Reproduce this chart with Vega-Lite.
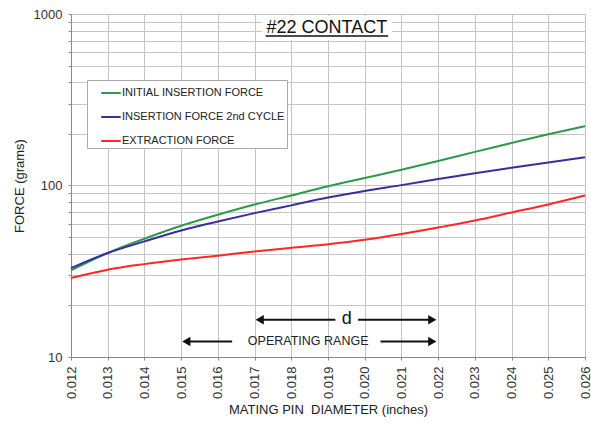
{
  "$schema": "https://vega.github.io/schema/vega-lite/v6.json",
  "width": 514,
  "height": 343,
  "autosize": {"type": "none"},
  "padding": {"left": 71, "top": 14, "right": 6, "bottom": 67},
  "background": "white",
  "config": {
    "font": "Liberation Sans",
    "view": {"stroke": "#aaaaaa", "strokeWidth": 1},
    "axis": {
      "labelFont": "Liberation Sans",
      "titleFont": "Liberation Sans",
      "labelColor": "#333333",
      "titleColor": "#222222",
      "titleFontWeight": "normal",
      "grid": true,
      "gridColor": "#c4c4c4",
      "gridWidth": 1,
      "gridOpacity": 1,
      "domainColor": "#888888",
      "tickColor": "#888888",
      "tickSize": 3
    }
  },
  "data": {
    "values": [
      {"d": 0.012, "s": "INITIAL INSERTION FORCE", "f": 32.0},
      {"d": 0.013, "s": "INITIAL INSERTION FORCE", "f": 40.4},
      {"d": 0.014, "s": "INITIAL INSERTION FORCE", "f": 48.9},
      {"d": 0.015, "s": "INITIAL INSERTION FORCE", "f": 58.2},
      {"d": 0.016, "s": "INITIAL INSERTION FORCE", "f": 67.5},
      {"d": 0.017, "s": "INITIAL INSERTION FORCE", "f": 77.4},
      {"d": 0.018, "s": "INITIAL INSERTION FORCE", "f": 87.5},
      {"d": 0.019, "s": "INITIAL INSERTION FORCE", "f": 99.0},
      {"d": 0.020, "s": "INITIAL INSERTION FORCE", "f": 110.5},
      {"d": 0.021, "s": "INITIAL INSERTION FORCE", "f": 123.5},
      {"d": 0.022, "s": "INITIAL INSERTION FORCE", "f": 139.0},
      {"d": 0.023, "s": "INITIAL INSERTION FORCE", "f": 157.0},
      {"d": 0.024, "s": "INITIAL INSERTION FORCE", "f": 177.0},
      {"d": 0.025, "s": "INITIAL INSERTION FORCE", "f": 199.0},
      {"d": 0.026, "s": "INITIAL INSERTION FORCE", "f": 222.0},
      {"d": 0.012, "s": "INSERTION FORCE 2nd CYCLE", "f": 33.0},
      {"d": 0.013, "s": "INSERTION FORCE 2nd CYCLE", "f": 40.4},
      {"d": 0.014, "s": "INSERTION FORCE 2nd CYCLE", "f": 47.2},
      {"d": 0.015, "s": "INSERTION FORCE 2nd CYCLE", "f": 54.7},
      {"d": 0.016, "s": "INSERTION FORCE 2nd CYCLE", "f": 61.7},
      {"d": 0.017, "s": "INSERTION FORCE 2nd CYCLE", "f": 69.0},
      {"d": 0.018, "s": "INSERTION FORCE 2nd CYCLE", "f": 76.6},
      {"d": 0.019, "s": "INSERTION FORCE 2nd CYCLE", "f": 85.0},
      {"d": 0.020, "s": "INSERTION FORCE 2nd CYCLE", "f": 93.0},
      {"d": 0.021, "s": "INSERTION FORCE 2nd CYCLE", "f": 100.5},
      {"d": 0.022, "s": "INSERTION FORCE 2nd CYCLE", "f": 109.0},
      {"d": 0.023, "s": "INSERTION FORCE 2nd CYCLE", "f": 118.0},
      {"d": 0.024, "s": "INSERTION FORCE 2nd CYCLE", "f": 127.0},
      {"d": 0.025, "s": "INSERTION FORCE 2nd CYCLE", "f": 136.0},
      {"d": 0.026, "s": "INSERTION FORCE 2nd CYCLE", "f": 146.0},
      {"d": 0.012, "s": "EXTRACTION FORCE", "f": 28.9},
      {"d": 0.013, "s": "EXTRACTION FORCE", "f": 32.3},
      {"d": 0.014, "s": "EXTRACTION FORCE", "f": 34.8},
      {"d": 0.015, "s": "EXTRACTION FORCE", "f": 37.0},
      {"d": 0.016, "s": "EXTRACTION FORCE", "f": 39.0},
      {"d": 0.017, "s": "EXTRACTION FORCE", "f": 41.2},
      {"d": 0.018, "s": "EXTRACTION FORCE", "f": 43.3},
      {"d": 0.019, "s": "EXTRACTION FORCE", "f": 45.4},
      {"d": 0.020, "s": "EXTRACTION FORCE", "f": 48.2},
      {"d": 0.021, "s": "EXTRACTION FORCE", "f": 52.1},
      {"d": 0.022, "s": "EXTRACTION FORCE", "f": 56.9},
      {"d": 0.023, "s": "EXTRACTION FORCE", "f": 62.5},
      {"d": 0.024, "s": "EXTRACTION FORCE", "f": 69.6},
      {"d": 0.025, "s": "EXTRACTION FORCE", "f": 77.5},
      {"d": 0.026, "s": "EXTRACTION FORCE", "f": 87.4}
    ]
  },
  "encoding": {
    "x": {"type": "quantitative", "scale": {"domain": [0.012, 0.026], "nice": false, "zero": false},
      "axis": {
        "grid": true,
        "values": [0.012, 0.013, 0.014, 0.015, 0.016, 0.017, 0.018, 0.019, 0.020, 0.021, 0.022, 0.023, 0.024, 0.025, 0.026],
        "tickCount": 15,
        "format": ".3f",
        "labelAngle": -90,
        "labelOverlap": false,
        "labelFontSize": 13,
        "labelPadding": 6,
        "title": "MATING PIN\u00a0 DIAMETER (inches)",
        "titleFontSize": 13,
        "titlePadding": 5
      }
    },
    "y": {"type": "quantitative", "scale": {"type": "log", "domain": [10, 1000], "nice": false},
      "axis": {
        "grid": true,
        "values": [10, 20, 30, 40, 50, 60, 70, 80, 90, 100, 200, 300, 400, 500, 600, 700, 800, 900, 1000],
        "format": "d",
        "labelOverlap": false,
        "labelExpr": "datum.value == 10 || datum.value == 100 || datum.value == 1000 ? datum.label : ''",
        "labelFontSize": 13,
        "labelPadding": 6,
        "title": "FORCE (grams)",
        "titleFontSize": 13,
        "titlePadding": 7
      }
    }
  },
  "layer": [
    {
      "data": {"values": [{}]},
      "mark": {"type": "rect", "fill": "white"},
      "encoding": {
        "x": {"datum": 0.0172},
        "x2": {"datum": 0.02074},
        "y": {"datum": 975},
        "y2": {"datum": 706}
      }
    },
    {
      "mark": {"type": "line", "strokeWidth": 2, "interpolate": "monotone"},
      "encoding": {
        "x": {"field": "d"},
        "y": {"field": "f"},
        "color": {
          "field": "s",
          "type": "nominal",
          "scale": {
            "domain": ["INITIAL INSERTION FORCE", "INSERTION FORCE 2nd CYCLE", "EXTRACTION FORCE"],
            "range": ["#2c9a48", "#3a2d9e", "#ff2626"]
          },
          "legend": {
            "title": null,
            "orient": "none",
            "legendX": 16,
            "legendY": 66,
            "padding": 2,
            "symbolOffset": 11,
            "symbolType": "stroke",
            "symbolSize": 380,
            "symbolStrokeWidth": 2,
            "labelFontSize": 11,
            "labelFont": "Liberation Sans",
            "labelColor": "#222222",
            "labelOffset": 0,
            "labelLimit": 400,
            "labelExpr": "datum.label + '\u00a0\u00a0\u00a0\u00a0\u00a0\u00a0'",
            "rowPadding": 8,
            "fillColor": "white",
            "strokeColor": "#aaaaaa"
          }
        }
      }
    },
    {
      "data": {"values": [{}]},
      "mark": {"type": "text", "text": "#22 CONTACT", "fontSize": 18, "font": "Liberation Sans", "color": "#111111", "baseline": "middle", "align": "center"},
      "encoding": {"x": {"datum": 0.01897}, "y": {"datum": 826}}
    },
    {
      "data": {"values": [{}]},
      "mark": {"type": "rule", "color": "#111111", "strokeWidth": 1.5},
      "encoding": {"x": {"datum": 0.0173}, "x2": {"datum": 0.02064}, "y": {"datum": 745}}
    },
    {
      "data": {"values": [{}]},
      "mark": {"type": "rule", "color": "#111111", "strokeWidth": 2},
      "encoding": {"x": {"datum": 0.0171}, "x2": {"datum": 0.0192}, "y": {"datum": 16.5}}
    },
    {
      "data": {"values": [{}]},
      "mark": {"type": "rule", "color": "#111111", "strokeWidth": 2},
      "encoding": {"x": {"datum": 0.01982}, "x2": {"datum": 0.0219}, "y": {"datum": 16.5}}
    },
    {
      "data": {"values": [{}]},
      "mark": {"type": "text", "text": "d", "fontSize": 18, "font": "Liberation Sans", "color": "#111111", "baseline": "middle", "align": "center"},
      "encoding": {"x": {"datum": 0.01951}, "y": {"datum": 16.7}}
    },
    {
      "data": {"values": [{}]},
      "mark": {"type": "rule", "color": "#111111", "strokeWidth": 2},
      "encoding": {"x": {"datum": 0.0151}, "x2": {"datum": 0.01639}, "y": {"datum": 12.33}}
    },
    {
      "data": {"values": [{}]},
      "mark": {"type": "rule", "color": "#111111", "strokeWidth": 2},
      "encoding": {"x": {"datum": 0.02043}, "x2": {"datum": 0.0219}, "y": {"datum": 12.33}}
    },
    {
      "data": {"values": [{}]},
      "mark": {"type": "text", "text": "OPERATING RANGE", "fontSize": 12.5, "font": "Liberation Sans", "color": "#222222", "baseline": "middle", "align": "center"},
      "encoding": {"x": {"datum": 0.01846}, "y": {"datum": 12.33}}
    },
    {
      "data": {"values": [{}]},
      "mark": {"type": "point", "shape": "triangle-left", "filled": true, "color": "#111111", "size": 90, "opacity": 1},
      "encoding": {"x": {"datum": 0.01714}, "y": {"datum": 16.5}}
    },
    {
      "data": {"values": [{}]},
      "mark": {"type": "point", "shape": "triangle-right", "filled": true, "color": "#111111", "size": 90, "opacity": 1},
      "encoding": {"x": {"datum": 0.02184}, "y": {"datum": 16.5}}
    },
    {
      "data": {"values": [{}]},
      "mark": {"type": "point", "shape": "triangle-left", "filled": true, "color": "#111111", "size": 90, "opacity": 1},
      "encoding": {"x": {"datum": 0.01514}, "y": {"datum": 12.33}}
    },
    {
      "data": {"values": [{}]},
      "mark": {"type": "point", "shape": "triangle-right", "filled": true, "color": "#111111", "size": 90, "opacity": 1},
      "encoding": {"x": {"datum": 0.02184}, "y": {"datum": 12.33}}
    }
  ]
}
